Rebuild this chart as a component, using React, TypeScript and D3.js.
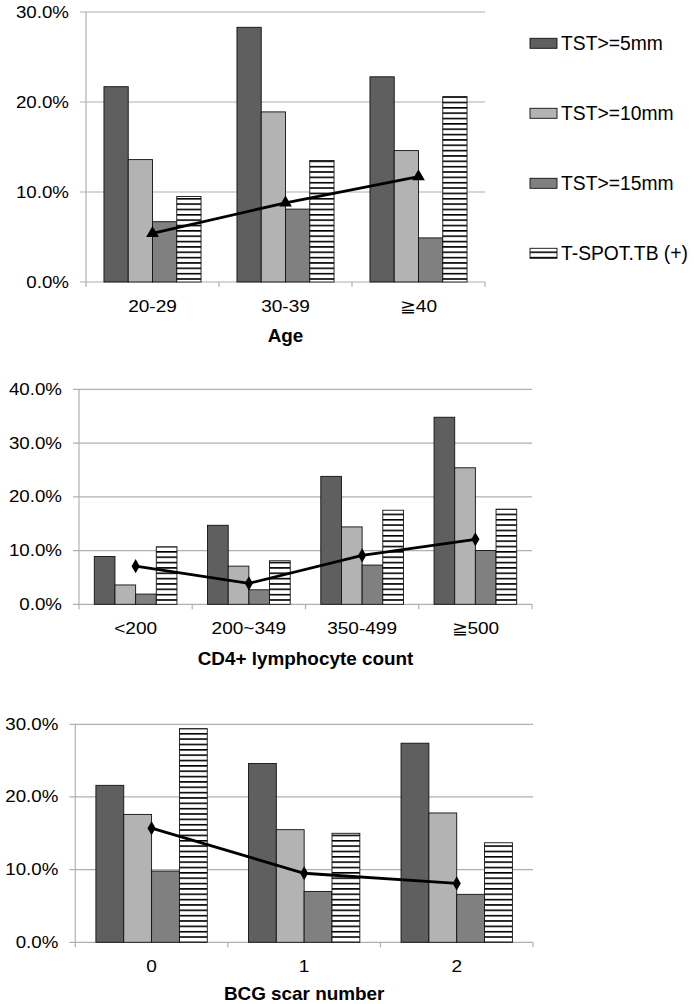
import React from "react";
import * as d3 from "d3";

// ---------- data ----------
const seriesNames = ["TST>=5mm", "TST>=10mm", "TST>=15mm", "T-SPOT.TB (+)"];

const ageCats = ["20-29", "30-39", "≧40"];
const ageTST5 = [21.7, 28.3, 22.8];
const ageTST10 = [13.6, 18.9, 14.6];
const ageTST15 = [6.7, 8.1, 4.9];
const ageTSPOT = [9.5, 13.5, 20.6];
const ageLine = [5.4, 8.8, 11.7];
const ageTicks = [0, 10, 20, 30];

const cd4Cats = ["<200", "200~349", "350-499", "≧500"];
const cd4TST5 = [8.9, 14.7, 23.8, 34.8];
const cd4TST10 = [3.6, 7.1, 14.4, 25.4];
const cd4TST15 = [1.9, 2.7, 7.3, 10.0];
const cd4TSPOT = [10.7, 8.1, 17.5, 17.7];
const cd4Line = [7.1, 3.9, 9.1, 12.1];
const cd4Ticks = [0, 10, 20, 30, 40];

const bcgCats = ["0", "1", "2"];
const bcgTST5 = [21.6, 24.6, 27.4];
const bcgTST10 = [17.6, 15.5, 17.8];
const bcgTST15 = [9.8, 7.0, 6.6];
const bcgTSPOT = [29.4, 15.0, 13.7];
const bcgLine = [15.7, 9.5, 8.1];
const bcgTicks = [0, 10, 20, 30];

const fills = ["#5f5f5f", "#b3b3b3", "#808080", "url(#stripes)"];
const FONT = '"Liberation Sans", Arial, Helvetica, sans-serif';
const GRID = "#b0b0b0";

type PanelProps = {
  cats: string[];
  series: number[][];
  line: number[];
  ticks: number[];
  left: number;
  right: number;
  top: number;
  bottom: number;
  title: string;
  marker: "triangle" | "diamond";
  titleOffset: number;
};

function SText(props: {
  x: number;
  y: number;
  sx: number;
  size: number;
  anchor: string;
  bold?: boolean;
  children: React.ReactNode;
}) {
  const { x, y, sx, size, anchor, bold, children } = props;
  return (
    <text
      transform={`translate(${x},${y}) scale(${sx},1)`}
      textAnchor={anchor}
      dominantBaseline="central"
      fontSize={size}
      fontWeight={bold ? "bold" : "normal"}
      fontFamily={FONT}
      fill="#000"
    >
      {children}
    </text>
  );
}

function Panel(p: PanelProps) {
  const yMax = p.ticks[p.ticks.length - 1];
  const y = d3.scaleLinear().domain([0, yMax]).range([p.bottom, p.top]);
  const x = d3.scaleBand<string>().domain(p.cats).range([p.left, p.right]).paddingInner(0).paddingOuter(0);
  const inner = d3
    .scaleBand<number>()
    .domain(d3.range(p.series.length))
    .range([0, x.bandwidth()])
    .paddingInner(0)
    .paddingOuter(0.74);
  const lineGen = d3
    .line<number>()
    .x((_, i) => (x(p.cats[i]) as number) + x.bandwidth() / 2)
    .y((d) => y(d));
  const boundaries = [...p.cats.map((c) => x(c) as number), p.right];
  const sym =
    p.marker === "triangle"
      ? d3.symbol(d3.symbolTriangle, 70)()
      : d3.symbol(d3.symbolDiamond, 58)();
  const cx = (p.left + p.right) / 2;
  return (
    <g>
      {p.ticks.map((t) => (
        <g key={t}>
          <line x1={p.left - 6} x2={p.right} y1={y(t)} y2={y(t)} stroke={GRID} strokeWidth={1.2} />
          <SText x={p.left - 17} y={y(t)} sx={1.17} size={16} anchor="end">
            {t.toFixed(1) + "%"}
          </SText>
        </g>
      ))}
      <line x1={p.left} x2={p.left} y1={p.top} y2={p.bottom} stroke={GRID} strokeWidth={1.2} />
      {boundaries.map((b, i) => (
        <line key={i} x1={b} x2={b} y1={p.bottom} y2={p.bottom + 5} stroke={GRID} strokeWidth={1.2} />
      ))}
      {p.cats.map((c, ci) => (
        <g key={c}>
          {p.series.map((s, si) => (
            <rect
              key={si}
              x={(x(c) as number) + (inner(si) as number)}
              y={y(s[ci])}
              width={inner.bandwidth()}
              height={p.bottom - y(s[ci])}
              fill={fills[si]}
              stroke="#111"
              strokeWidth={0.9}
            />
          ))}
          <SText x={(x(c) as number) + x.bandwidth() / 2} y={p.bottom + 24} sx={1.12} size={17} anchor="middle">
            {c}
          </SText>
        </g>
      ))}
      <path d={lineGen(p.line) || ""} fill="none" stroke="#000" strokeWidth={2.8} />
      {p.line.map((v, i) => (
        <path
          key={i}
          d={sym || ""}
          transform={`translate(${(x(p.cats[i]) as number) + x.bandwidth() / 2},${y(v)})`}
          fill="#000"
        />
      ))}
      <SText x={cx} y={p.bottom + p.titleOffset} sx={1.05} size={18} anchor="middle" bold>
        {p.title}
      </SText>
    </g>
  );
}

export default function App() {
  const legendY = [43.3, 113.3, 183.3, 253.3];
  return (
    <svg
      width={694}
      height={1004}
      style={{ position: "absolute", left: 0, top: 0, background: "#fff" }}
    >
      <defs>
        <pattern id="stripes" patternUnits="userSpaceOnUse" width={6} height={5.35}>
          <rect width={6} height={5.35} fill="#fff" />
          <rect y={0} width={6} height={1.6} fill="#000" />
        </pattern>
      </defs>
      <rect width={694} height={1004} fill="#fff" />
      <Panel
        cats={ageCats}
        series={[ageTST5, ageTST10, ageTST15, ageTSPOT]}
        line={ageLine}
        ticks={ageTicks}
        left={86}
        right={485}
        top={12}
        bottom={282}
        title="Age"
        marker="triangle"
        titleOffset={54}
      />
      <Panel
        cats={cd4Cats}
        series={[cd4TST5, cd4TST10, cd4TST15, cd4TSPOT]}
        line={cd4Line}
        ticks={cd4Ticks}
        left={79}
        right={532}
        top={389.3}
        bottom={604.3}
        title="CD4+ lymphocyte count"
        marker="diamond"
        titleOffset={54}
      />
      <Panel
        cats={bcgCats}
        series={[bcgTST5, bcgTST10, bcgTST15, bcgTSPOT]}
        line={bcgLine}
        ticks={bcgTicks}
        left={75.3}
        right={533}
        top={724.3}
        bottom={942.3}
        title="BCG scar number"
        marker="diamond"
        titleOffset={51}
      />
      {seriesNames.map((n, i) => (
        <g key={n}>
          <rect x={530} y={legendY[i] - 5} width={27} height={10} fill={fills[i]} stroke="#111" strokeWidth={0.9} />
          <SText x={561} y={legendY[i]} sx={1} size={19.3} anchor="start">
            {n}
          </SText>
        </g>
      ))}
    </svg>
  );
}
